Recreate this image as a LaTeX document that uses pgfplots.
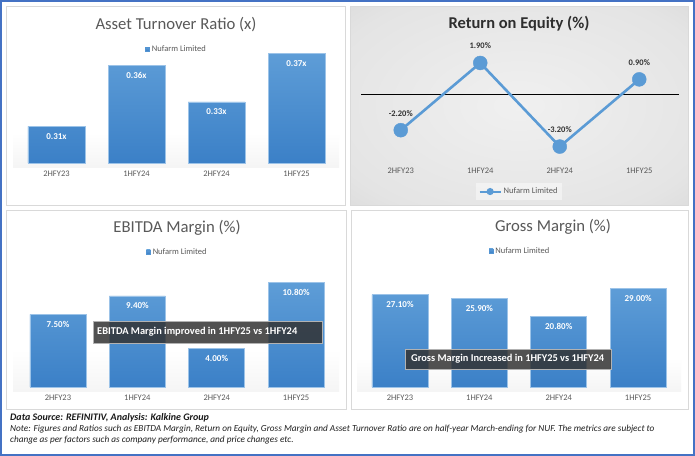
\documentclass[border=0pt]{standalone}
\usepackage{pgfplots}
\pgfplotsset{compat=1.18}
\usepackage{fontspec}
\setmainfont{Carlito}

\definecolor{bartop}{HTML}{5E9DD7}
\definecolor{barbot}{HTML}{3B80C7}
\definecolor{baredge}{HTML}{9CC3E8}
\definecolor{roeblue}{HTML}{5B9BD5}
\definecolor{txtgray}{HTML}{595959}
\definecolor{frameblue}{HTML}{4472C4}
\definecolor{panelline}{HTML}{D9D9D9}
\definecolor{roein}{HTML}{F0F0F0}
\definecolor{roemid}{HTML}{E4E4E4}
\definecolor{roeedge}{HTML}{CFCFCF}
\definecolor{roecorner}{HTML}{BABABA}
\definecolor{boxfill}{HTML}{333333}

\pgfdeclareradialshading{roebg}{\pgfpoint{0bp}{0bp}}{color(0bp)=(roein); color(30bp)=(roemid); color(50bp)=(roeedge); color(71bp)=(roecorner)}

\newcommand{\fs}[1]{\fontsize{#1bp}{#1bp}\selectfont}

\pgfplotsset{
  panel/.style={
    scale only axis, enlargelimits=false,
    xmin=-0.5, xmax=3.5,
    xtick={0,1,2,3}, xticklabels={2HFY23,1HFY24,2HFY24,1HFY25},
    ytick=\empty,
    axis line style={draw=none}, major tick length=0pt,
    xticklabel style={font=\fs{8.5}, text=txtgray, yshift=-4.5bp},
    legend style={draw=none, fill=none, font=\fs{8.5}, text=txtgray, anchor=center, legend cell align=left},
  },
  barpanel/.style={panel,
    ybar, bar width=56bp,
    nodes near coords, point meta=explicit symbolic,
    nodes near coords style={anchor=center, yshift=-10bp, text=white, font=\bfseries\fs{9}},
  },
  bars/.style={draw=baredge, line width=0.6bp, top color=bartop, bottom color=barbot,
    legend image code/.code={\fill[bartop!70!barbot] (0bp,-2bp) rectangle (4bp,2bp);}},
}

\begin{document}
\begin{tikzpicture}
\useasboundingbox (0,0) rectangle (695bp,-456bp);

% backgrounds
\begin{scope}[x=1bp,y=-1bp]
  \fill[white] (0,0) rectangle (695,456);
  \draw[panelline, line width=0.8bp, fill=white] (6,6) rectangle (345,205);
  \shade[shading=roebg] (350,6) rectangle (688,205);
  \draw[panelline, line width=0.8bp] (350,6) rectangle (688,205);
  \draw[panelline, line width=0.8bp, fill=white] (6,210) rectangle (346,409);
  \draw[panelline, line width=0.8bp, fill=white] (351,210) rectangle (688,409);
  \shade[top color=white, middle color=gray!28, bottom color=gray!8] (13,133) rectangle (339,167);
  \shade[top color=white, middle color=gray!28, bottom color=gray!8] (13,350) rectangle (339,391);
  \shade[top color=white, middle color=gray!28, bottom color=gray!8] (357,358) rectangle (681,391);
  \draw[frameblue, line width=1.6bp] (0.8,0.8) rectangle (694.2,455.2);
\end{scope}

% Asset Turnover Ratio
\begin{axis}[barpanel, at={(16.5bp,-163bp)}, anchor=south west,
  width=320bp, height=118bp, bar width=57bp,
  y filter/.expression={y-0.28}, ymin=0, ymax=0.0967,
  legend style={at={(axis description cs:0.5,0.966)}}]
\addplot[bars] coordinates {(0,0.31)[0.31x] (1,0.36)[0.36x] (2,0.33)[0.33x] (3,0.37)[0.37x]};
\addlegendentry{Nufarm Limited}
\end{axis}

% Return on Equity
\begin{axis}[panel, at={(361bp,-159.7bp)}, anchor=south west,
  width=318bp, height=119.7bp, ymin=-4, ymax=3.3,
  legend style={at={(axis description cs:0.497,-0.266)}, fill=white, fill opacity=0.45, text opacity=1, draw=none, inner sep=3bp}]
\draw[black, line width=1.2bp] (axis cs:-0.5,0) -- (axis cs:3.5,0);
\addplot[roeblue, line width=2.6bp, mark=*, mark size=7bp,
  mark options={fill=roeblue, draw=roeblue, line width=0.4bp},
  nodes near coords, point meta=explicit symbolic,
  nodes near coords style={anchor=center, yshift=17bp, text=black!80, font=\bfseries\fs{8.5}},
  legend image code/.code={\draw[roeblue, line width=2bp] (0bp,0bp) -- (21bp,0bp); \fill[roeblue] (10.5bp,0bp) circle (2.2bp);}]
  coordinates {(0,-2.2)[-2.20\%] (1,1.9)[1.90\%] (2,-3.2)[-3.20\%] (3,0.9)[0.90\%]};
\addlegendentry{Nufarm Limited}
\end{axis}

% EBITDA Margin
\begin{axis}[barpanel, at={(18.3bp,-387bp)}, anchor=south west,
  width=317.5bp, height=122bp, ymin=0, ymax=12.58,
  legend style={at={(axis description cs:0.501,1.107)}}]
\addplot[bars] coordinates {(0,7.5)[7.50\%] (1,9.4)[9.40\%] (2,4.0)[4.00\%] (3,10.8)[10.80\%]};
\addlegendentry{Nufarm Limited}
\end{axis}

% Gross Margin
\begin{axis}[barpanel, at={(360.3bp,-387bp)}, anchor=south west,
  width=317.5bp, height=122bp, ymin=0, ymax=35.78,
  legend style={at={(axis description cs:0.503,1.115)}}]
\addplot[bars] coordinates {(0,27.1)[27.10\%] (1,25.9)[25.90\%] (2,20.8)[20.80\%] (3,29.0)[29.00\%]};
\addlegendentry{Nufarm Limited}
\end{axis}

% titles, callouts, footer
\begin{scope}[x=1bp,y=-1bp]
  \node[font=\fs{16.7}, text=txtgray] at (176,25) {Asset Turnover Ratio (x)};
  \node[font=\bfseries\fs{16.5}, text=black!82] at (519,24) {Return on Equity (\%)};
  \node[font=\fs{16.7}, text=txtgray] at (177,228) {EBITDA Margin (\%)};
  \node[font=\fs{16.7}, text=txtgray] at (553,227) {Gross Margin (\%)};

  \fill[boxfill, fill opacity=0.85] (93,321) rectangle (322,343);
  \draw[gray!60, line width=0.4bp] (93,321) rectangle (322,343);
  \node[anchor=west, font=\bfseries\fs{10.4}, text=white, inner sep=0] at (97,332) {EBITDA Margin improved in 1HFY25 vs 1HFY24};
  \fill[boxfill, fill opacity=0.85] (405,349) rectangle (611,369);
  \draw[gray!60, line width=0.4bp] (405,349) rectangle (611,369);
  \node[anchor=west, font=\bfseries\fs{10.4}, text=white, inner sep=0] at (411,359) {Gross Margin Increased in 1HFY25 vs 1HFY24};

  \node[anchor=west, inner sep=0, font=\bfseries\itshape\fs{10}, text=black!90] at (10,418) {Data Source: REFINITIV, Analysis: Kalkine Group};
  \node[anchor=west, inner sep=0, font=\itshape\fs{9.25}, text=black!88] at (10,429) {Note: Figures and Ratios such as EBITDA Margin, Return on Equity, Gross Margin and Asset Turnover Ratio are on half-year March-ending for NUF. The metrics are subject to};
  \node[anchor=west, inner sep=0, font=\itshape\fs{9.25}, text=black!88] at (10,440) {change as per factors such as company performance, and price changes etc.};
\end{scope}
\end{tikzpicture}
\end{document}
